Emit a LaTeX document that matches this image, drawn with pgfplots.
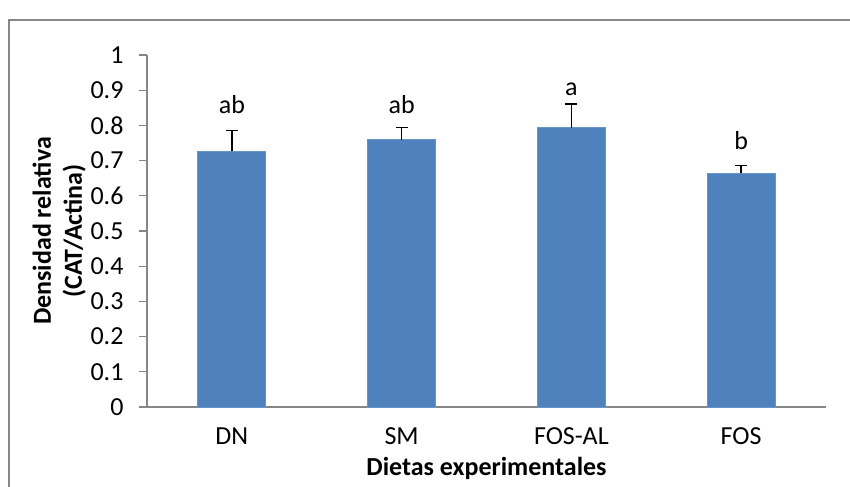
\documentclass[border=0pt]{standalone}
\usepackage{pgfplots}
\pgfplotsset{compat=1.18}
\usepackage{fontspec}
\setmainfont{Carlito}
\definecolor{barblue}{HTML}{4F81BD}
\definecolor{axgray}{HTML}{868686}
\begin{document}
\begin{tikzpicture}
\path[use as bounding box] (-147bp,-80bp) rectangle (703bp,407bp);
\draw[axgray, line width=1.5bp] (-138bp,-90bp) -- (-138bp,387bp) -- (710bp,387bp);
\begin{axis}[
  at={(0,0)}, anchor=south west,
  scale only axis, width=679bp, height=352bp,
  xmin=-0.5, xmax=3.5, ymin=0, ymax=1,
  axis x line*=bottom, axis y line*=left,
  axis line style={axgray, line width=1.3bp, -},
  xtick={0,1,2,3},
  xticklabels={DN,SM,FOS-AL,FOS},
  x tick style={draw=none},
  extra x ticks={-0.5,0.5,1.5,2.5,3.5},
  extra x tick labels={},
  extra x tick style={major tick length=8bp, tick style={axgray, line width=1.3bp}},
  ytick={0,0.1,...,1.0},
  yticklabels={0,0.1,0.2,0.3,0.4,0.5,0.6,0.7,0.8,0.9,1},
  tick align=outside,
  major tick length=8bp,
  y tick style={axgray, line width=1.3bp},
  /pgf/number format/assume math mode=true,
  tick label style={font=\fontsize{26bp}{30bp}\selectfont, black},
  yticklabel style={xshift=-12bp},
  xticklabel style={yshift=-9bp},
  xlabel={\textbf{Dietas experimentales}},
  xlabel style={font=\fontsize{26bp}{30bp}\selectfont, yshift=10bp},
  ylabel={\textbf{Densidad relativa}\\\textbf{(CAT/Actina)}},
  ylabel style={font=\fontsize{26bp}{31bp}\selectfont, align=center, yshift=-2bp},
  clip=false,
]
\addplot[ybar, bar width=68bp, fill=barblue, draw=barblue!85!white, line width=0.8bp,
  error bars/.cd, y dir=plus, y explicit,
  error bar style={black, line width=1.6bp},
  error mark options={rotate=90, mark size=6bp, black, line width=1.6bp}]
  table[x=x, y=y, y error=e] {
x y e
0 0.726 0.060
1 0.759 0.035
2 0.793 0.067
3 0.664 0.022
};
\addplot[only marks, mark=none, nodes near coords, point meta=explicit symbolic,
  every node near coord/.style={anchor=base, inner sep=0pt, font=\fontsize{26bp}{30bp}\selectfont, black}]
  table[x=x, y=y, meta=l] {
x y l
0 0.834 ab
1 0.834 ab
2 0.885 a
3 0.732 b
};
\end{axis}
\end{tikzpicture}
\end{document}
